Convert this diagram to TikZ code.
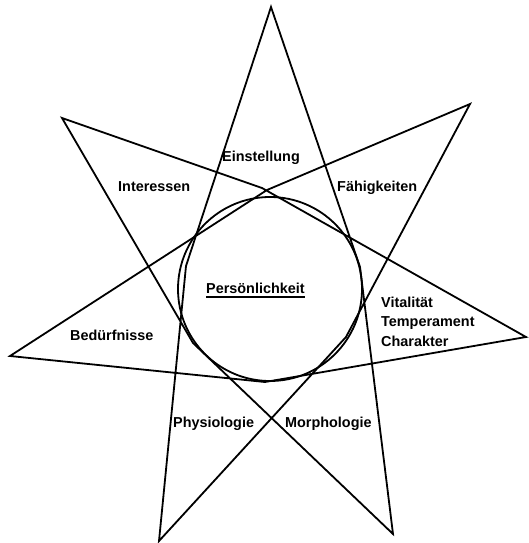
\documentclass[tikz,border=0pt]{standalone}
\usepackage{fontspec}
\setmainfont{Liberation Sans}
\begin{document}
\begin{tikzpicture}[x=1pt,y={(0pt,-1pt)},
  starline/.style={line width=1.8pt,line join=miter},
  ring/.style={line width=1.8pt},
  lbl/.style={font=\fontsize{14.4}{19.5}\selectfont\bfseries,inner sep=0pt,anchor=base west,align=left}]
  \useasboundingbox (0,0) rectangle (529,543);
  \coordinate (T) at (271,7);
  \coordinate (UR) at (470,104);
  \coordinate (R) at (526,337);
  \coordinate (BR) at (393,534);
  \coordinate (BL) at (159,541);
  \coordinate (L) at (10,356);
  \coordinate (UL) at (62,118);
  \coordinate (b1) at (186,266);
  \coordinate (b2) at (360,267);
  \coordinate (b3) at (193,343);
  \coordinate (b4) at (262,188);
  \coordinate (b5) at (267,190);
  \coordinate (b6) at (346,337);
  \coordinate (b7) at (265,382);
  \coordinate (mid) at (270,289);
  \draw[starline] (T) -- (b2) -- (BR) -- (b3) -- (UL) -- (b4) -- (R) -- (b7) -- (L) -- (b5) -- (UR) -- (b6) -- (BL) -- (b1) -- cycle;
  \draw[ring] (mid) circle[radius=92pt];
  \node[lbl] (einst) at (222,161) {Einstellung};
  \node[lbl] (inter) at (118,191) {Interessen};
  \node[lbl] (faehig) at (337,191) {Fähigkeiten};
  \node[lbl] (pers) at (206,293) {Persönlichkeit};
  \draw[line width=1.4pt] ([yshift=-4pt]pers.base west) -- ([yshift=-4pt]pers.base east);
  \node[lbl] (vital) at (381,346) {Vitalität\\Temperament\\Charakter};
  \node[lbl] (beduerf) at (70,340) {Bedürfnisse};
  \node[lbl] (physio) at (173,427) {Physiologie};
  \node[lbl] (morpho) at (285,427) {Morphologie};
\end{tikzpicture}
\end{document}
